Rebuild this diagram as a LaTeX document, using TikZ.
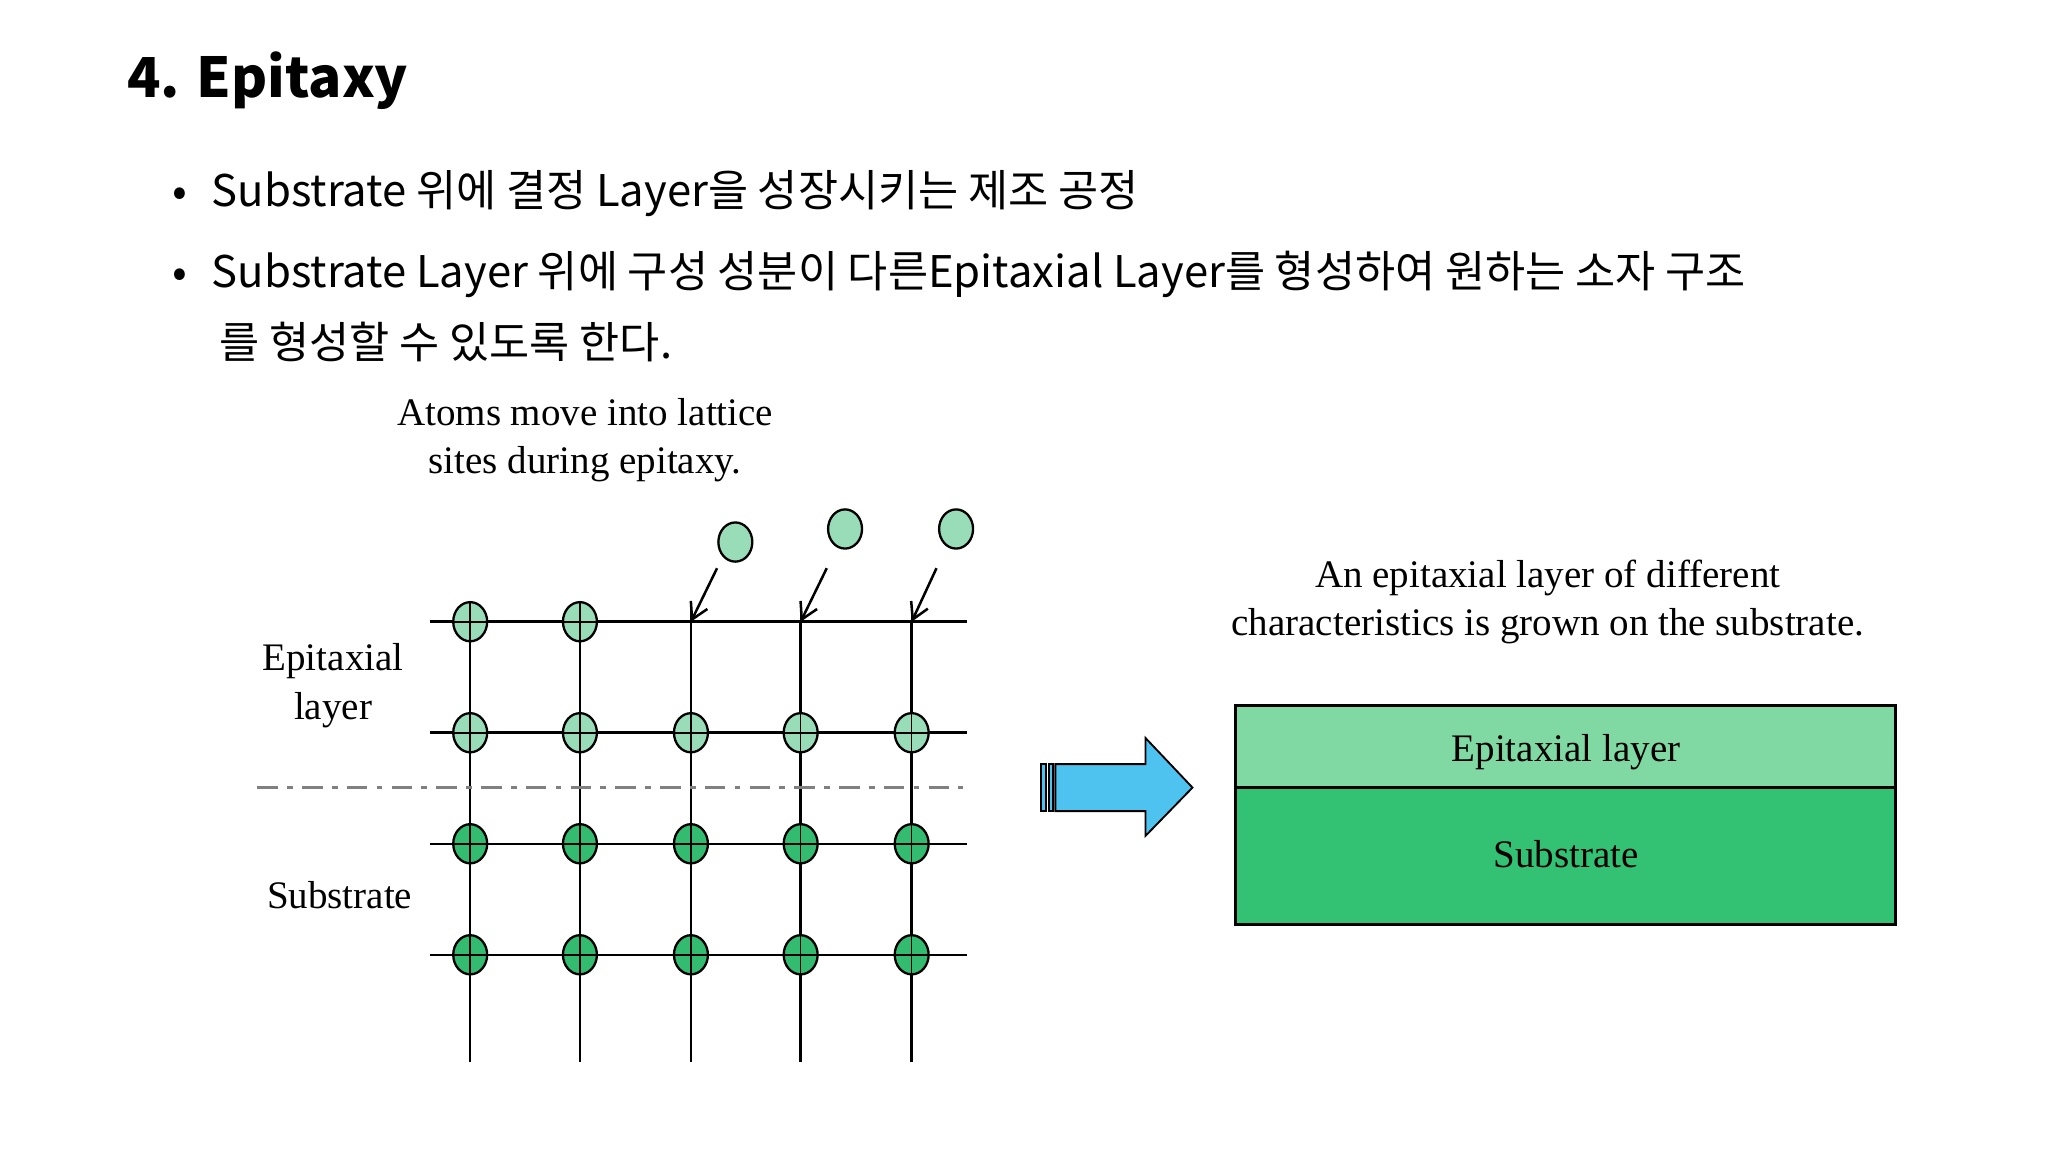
\documentclass[tikz,border=0pt]{standalone}
\usepackage{fontspec}
\setmainfont{Liberation Serif}
\newfontfamily\kr{Noto Sans CJK KR}
\usetikzlibrary{arrows.meta,shapes.arrows}
\definecolor{lg}{HTML}{99DDB8}
\definecolor{dg}{HTML}{33BB70}
\definecolor{epi}{HTML}{80D8A2}
\definecolor{sub}{HTML}{33C173}
\definecolor{blu}{HTML}{4FC3F0}
\tikzset{
  grid/.style={line width=1.1pt},
  atomL/.style={ellipse,draw,line width=1pt,fill=lg,minimum width=0.52cm,minimum height=0.6cm,inner sep=0pt},
  atomD/.style={ellipse,draw,line width=1pt,fill=dg,minimum width=0.52cm,minimum height=0.6cm,inner sep=0pt},
  lbl/.style={font=\fontsize{17}{21}\selectfont,align=center},
  body/.style={font=\kr\fontsize{19}{26}\selectfont,anchor=west,inner sep=0pt},
}
\usetikzlibrary{shapes.geometric}
\begin{document}
\begin{tikzpicture}[x={0.02cm},y={-0.02cm}]
\useasboundingbox (0,0) rectangle (1568,882);
\node[anchor=west,inner sep=0pt,font=\kr\bfseries\fontsize{24}{28}\selectfont] (title) at (97,62) {4. Epitaxy};
\node[body] (b1) at (132,148) {•\hspace{0.55em}Substrate 위에 결정 Layer을 성장시키는 제조 공정};
\node[body] (b2) at (132,210) {•\hspace{0.55em}Substrate Layer 위에 구성 성분이 다른Epitaxial Layer를 형성하여 원하는 소자 구조};
\node[body] (b3) at (168,262) {를 형성할 수 있도록 한다.};
\node[lbl] (cap1) at (448,337) {Atoms move into lattice\\sites during epitaxy.};
\node[lbl] (lepi) at (255,525) {Epitaxial\\layer};
\node[lbl] (lsub) at (260,685) {Substrate};
% grid
\foreach \x in {360,444,529,613,698} \draw[grid] (\x,476) -- (\x,813);
\foreach \y in {476,561,646,731} \draw[grid] (329,\y) -- (740,\y);
\draw[gray,line width=1.6pt,dash pattern=on 9pt off 4pt on 2.5pt off 4pt] (197,603) -- (737,603);
\foreach \x/\n in {360/a,444/b} \node[atomL] (t\n) at (\x,476) {};
\foreach \x/\n in {360/a,444/b,529/c,613/d,698/e} {
  \node[atomL] (m\n) at (\x,561) {};
  \node[atomD] (s\n) at (\x,646) {};
  \node[atomD] (u\n) at (\x,731) {};
  \draw[line width=0.7pt] (\x,476) ++(0,-10) -- +(0,20);
}
\foreach \x/\n in {360/a,444/b,529/c,613/d,698/e} \foreach \y in {561,646,731} {
  \draw[line width=0.7pt] (\x-13,\y) -- (\x+13,\y) (\x,\y-15) -- (\x,\y+15);}
\foreach \x in {360,444} \draw[line width=0.7pt] (\x-13,476) -- (\x+13,476) (\x,476-15) -- (\x,476+15);
\node[atomL] (f1) at (563,415) {};
\node[atomL] (f2) at (647,405) {};
\node[atomL] (f3) at (732,405) {};
\coordinate (p1) at (529,476); \coordinate (p2) at (613,476); \coordinate (p3) at (698,476);
\coordinate (q1) at (549,435); \coordinate (q2) at (633,435); \coordinate (q3) at (717,435);
\foreach \i in {1,2,3} \draw[line width=1.1pt,-{Straight Barb[length=7pt,width=8pt]}] (q\i) -- (p\i);
% block arrow
\draw[line width=0.8pt,fill=blu] (808,585) -- (877,585) -- (877,565) -- (913,603) -- (877,640) -- (877,621) -- (808,621) -- cycle;
\draw[line width=0.8pt,fill=blu] (797,585) rectangle (801,621);
\draw[line width=0.8pt,fill=blu] (803,585) rectangle (806,621);
% right box
\node[lbl] (cap2) at (1185,461) {An epitaxial layer of different\\characteristics is grown on the substrate.};
\draw[line width=1.4pt,fill=epi] (946,540) rectangle (1451,603);
\draw[line width=1.4pt,fill=sub] (946,603) rectangle (1451,708);
\node[lbl] (tepi) at (1199,576) {Epitaxial layer};
\node[lbl] (tsub) at (1199,654) {Substrate};
\end{tikzpicture}
\end{document}
